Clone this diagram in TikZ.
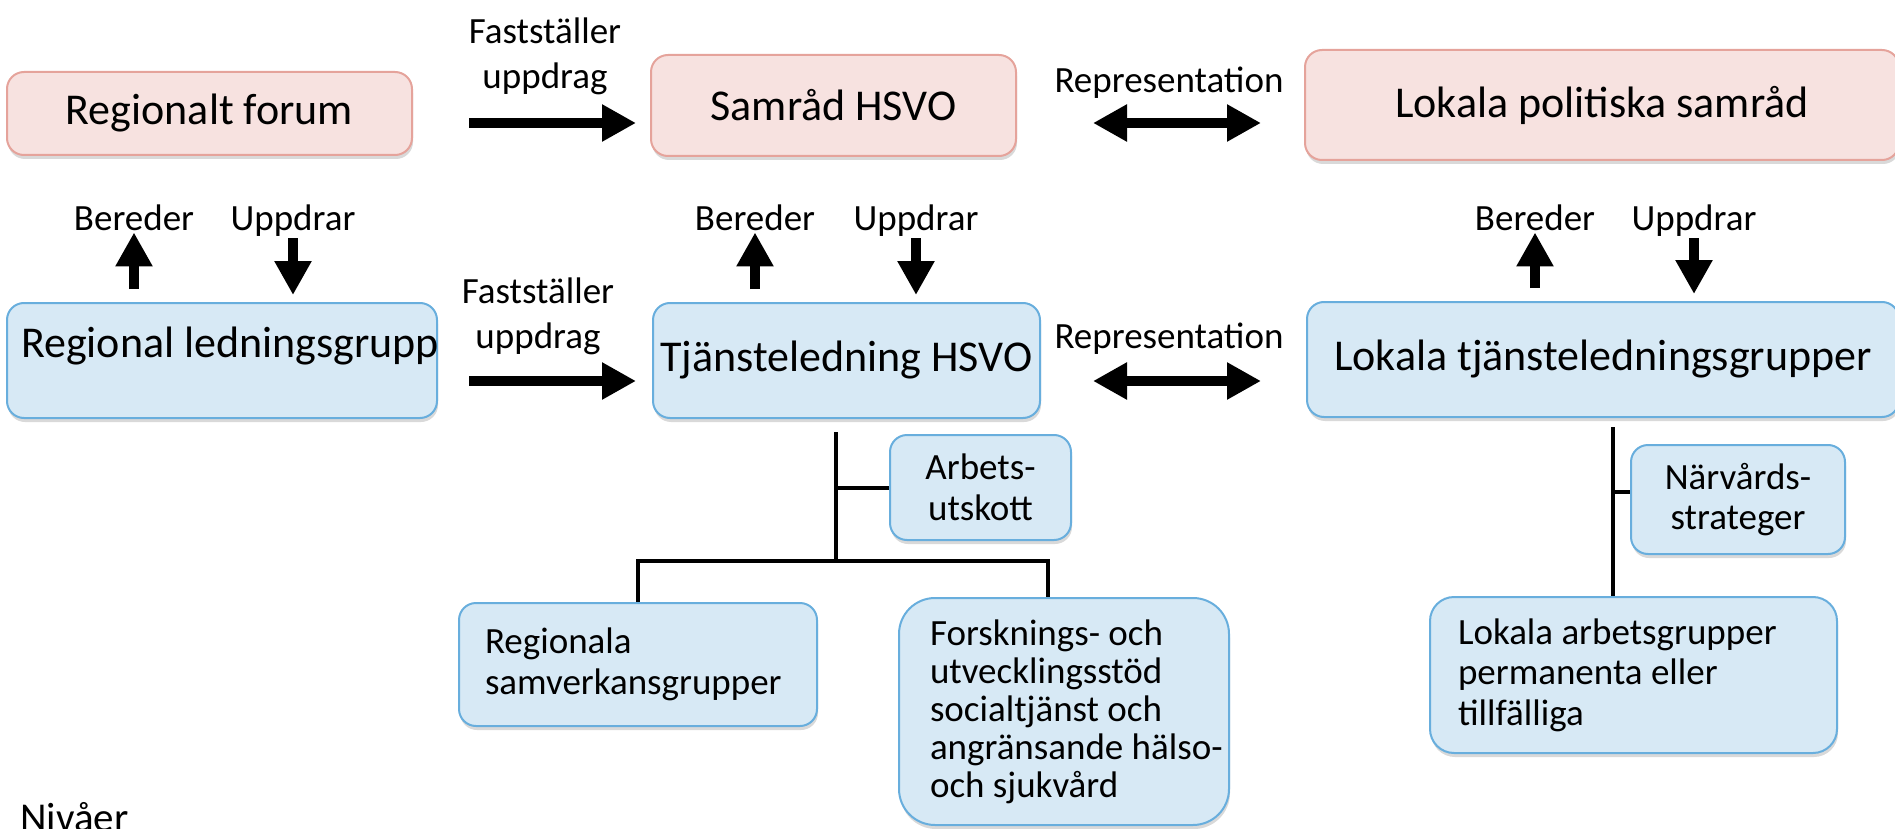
\documentclass[tikz,border=0pt]{standalone}
\usepackage{fontspec}
\setmainfont{Carlito}
\usepackage{tikz}
\usetikzlibrary{arrows.meta}
\usetikzlibrary{shadows}
\definecolor{pinkfill}{RGB}{247,226,224}
\definecolor{pinkline}{RGB}{229,163,155}
\definecolor{bluefill}{RGB}{215,233,245}
\definecolor{blueline}{RGB}{104,174,221}

\tikzset{
  orgbox/.style={rounded corners=17pt, line width=2pt, inner sep=0pt,
    drop shadow={shadow xshift=1pt, shadow yshift=-4pt, opacity=0.3}},
  pinkbox/.style={orgbox, draw=pinkline, fill=pinkfill},
  bluebox/.style={orgbox, draw=blueline, fill=bluefill},
  bigtxt/.style={font=\fontsize{44}{50}\selectfont},
  smalltxt/.style={font=\fontsize{37}{41}\selectfont},
  blockarrow/.style={line width=10pt, arrows={-Triangle[length=34pt,width=35pt]}},
  blockboth/.style={line width=10pt, arrows={Triangle[length=34pt,width=35pt]-Triangle[length=34pt,width=35pt]}},
  treeline/.style={line width=4pt}
}

\begin{document}
\begin{tikzpicture}[x=1pt,y=-1pt]
    \useasboundingbox (0,0) rectangle (1895,829);

    \node[pinkbox, minimum width=405pt, minimum height=83pt, bigtxt] (forum) at (209.5,113.5) {Regionalt forum};
    \node[pinkbox, minimum width=365pt, minimum height=101pt, bigtxt] (samrad) at (833.5,105.5) {Samråd HSVO};
    \node[pinkbox, minimum width=594pt, minimum height=110pt, bigtxt] (lokpol) at (1602,105) {Lokala politiska samråd};

    \node[bluebox, minimum width=430pt, minimum height=115pt, bigtxt, inner xsep=14pt, text width=402pt, align=flush left, text height=32pt, text depth=39pt] (regled) at (222,360.5) {\mbox{Regional ledningsgrupp}};
    \node[bluebox, minimum width=387pt, minimum height=115pt, bigtxt] (tjled) at (846.5,360.5) {Tjänsteledning HSVO};
    \node[bluebox, minimum width=592pt, minimum height=115pt, bigtxt] (loktj) at (1603,359.5) {Lokala tjänsteledningsgrupper};

    \node[smalltxt, align=center, inner sep=0pt] (fast1) at (545,56) {Fastställer\\[4pt]uppdrag};
    \node[smalltxt, align=center, inner sep=0pt] (fast2) at (538,316) {Fastställer\\[4pt]uppdrag};
    \node[smalltxt, anchor=base, inner sep=0pt] (repr1) at (1169,93) {Representation};
    \node[smalltxt, anchor=base, inner sep=0pt] (repr2) at (1169,348) {Representation};

    \foreach \y/\i in {123/1, 381/2} {
        \coordinate (fs\i) at (469,\y);
        \coordinate (fe\i) at (636,\y);
        \coordinate (rs\i) at (1093,\y);
        \coordinate (re\i) at (1261,\y);
        \draw[blockarrow] (fs\i) -- (fe\i);
        \draw[blockboth] (rs\i) -- (re\i);
    }

    \foreach \bx/\ux/\lvl in {134/293/regled, 755/916/tjled, 1535/1694/loktj} {
        \node[smalltxt, anchor=base, inner sep=2pt] (ber\lvl) at (\bx,230) {Bereder};
        \node[smalltxt, anchor=base, inner sep=2pt] (upp\lvl) at (\ux,230) {Uppdrar};
        \coordinate (bs\lvl) at (ber\lvl |- \lvl.north);
        \coordinate (us\lvl) at (upp\lvl |- \lvl.north);
        \draw[blockarrow] ([yshift=13pt]bs\lvl) -- (ber\lvl.south);
        \draw[blockarrow] (upp\lvl.south) -- ([yshift=7pt]us\lvl);
    }

    \node[bluebox, smalltxt, minimum width=181pt, minimum height=105pt, align=center] (arb) at (980.5,487.5) {Arbets-\\utskott};
    \node[bluebox, smalltxt, minimum height=123pt, inner xsep=26pt, text width=306pt, align=flush left] (regsam) at (638,664.5) {Regionala\\samverkansgrupper};
    \node[bluebox, minimum height=227pt, inner xsep=31pt, text width=268pt, align=flush left, rounded corners=36pt, font=\fontsize{37}{38}\selectfont] (forsk) at (1064,711.5) {Forsknings- och\\utvecklingsstöd\\\mbox{socialtjänst och}\\\mbox{angränsande hälso-}\\och sjukvård};

    \coordinate (t1top) at (836,432);
    \coordinate (t1bar) at (836,561);
    \draw[treeline] (t1top) -- (t1bar);
    \draw[treeline] (t1top |- arb.west) -- (arb.west);
    \draw[treeline] (regsam.north) |- (t1bar) -| ([xshift=-16pt]forsk.north);

    \node[bluebox, smalltxt, minimum width=214pt, minimum height=109pt, align=center, font=\fontsize{37}{40}\selectfont] (nar) at (1738,499.5) {Närvårds-\\strateger};
    \node[bluebox, minimum height=156pt, inner xsep=28pt, text width=351pt, align=flush left, rounded corners=24pt, font=\fontsize{37}{40.5}\selectfont] (lokarb) at (1633.5,675) {Lokala arbetsgrupper\\permanenta eller\\tillfälliga};

    \coordinate (t2top) at (1613,427);
    \coordinate (narjoin) at ([yshift=8pt]nar.west);
    \draw[treeline] (t2top) -- (t2top |- lokarb.north);
    \draw[treeline] (t2top |- narjoin) -- (narjoin);

    \node[font=\fontsize{41}{48}\selectfont, anchor=base west, inner sep=0pt] (niv) at (20,831) {Nivåer};
\end{tikzpicture}
\end{document}
